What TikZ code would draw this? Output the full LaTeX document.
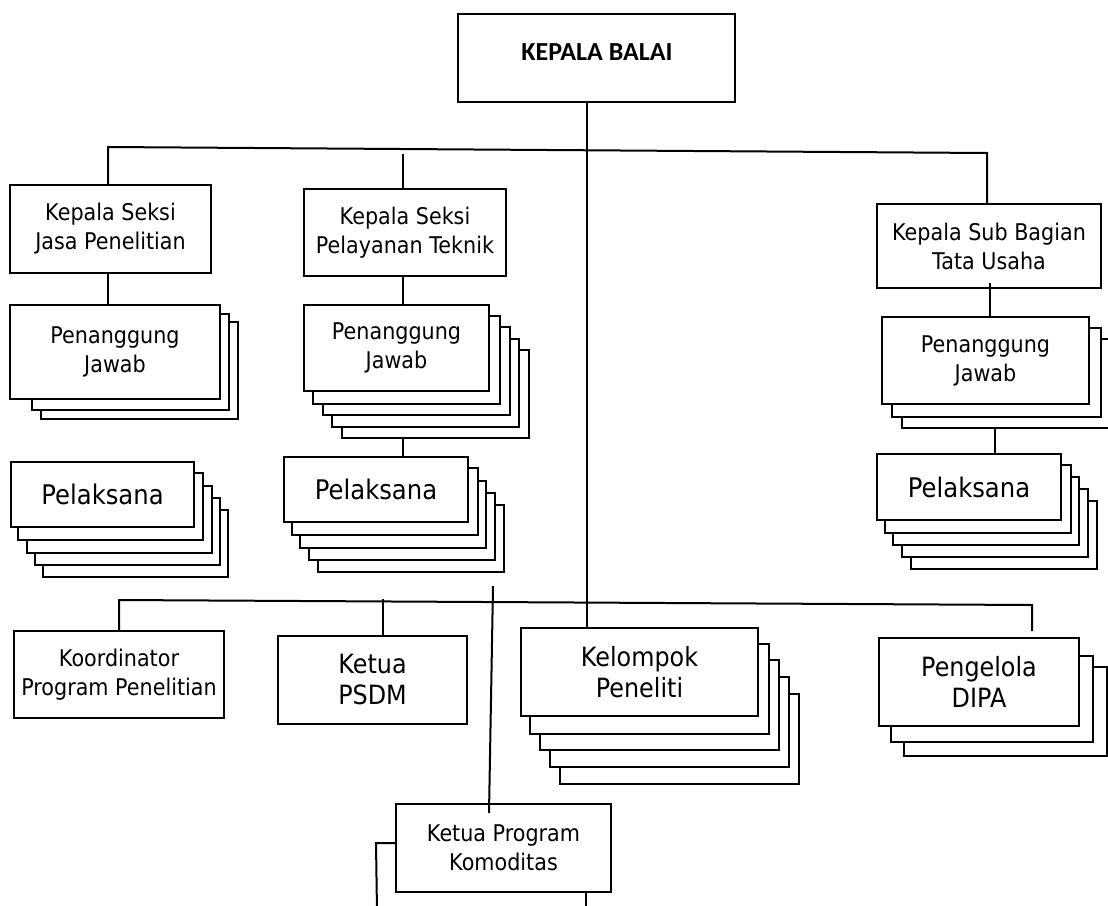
\documentclass[tikz,border=0pt]{standalone}
\usepackage{fontspec}
\newfontfamily\tah[FakeStretch=0.9]{DejaVu Sans}
\newfontfamily\carl{Carlito}
\usetikzlibrary{calc}
\pgfdeclarelayer{bg}
\pgfdeclarelayer{mid}
\pgfsetlayers{bg,mid,main}
\tikzset{
  box/.style={draw=black, fill=white, line width=2pt, inner sep=0pt, align=center, font=\tah\fontsize{23}{29}\selectfont},
  bigtext/.style={font=\tah\fontsize{26.5}{31}\selectfont},
  pltext/.style={font=\tah\fontsize{27}{31}\selectfont},
  layer/.style={draw=black, fill=white, line width=2pt},
  conn/.style={draw=black, line width=2pt},
}
\begin{document}
\begin{tikzpicture}[x=1pt,y=-1pt]
\useasboundingbox (0,0) rectangle (1108,905);

% ---- nodes ----
\node[box, minimum width=277, minimum height=88] (kb) at (596.5,58) {};
\node[font=\carl\bfseries\fontsize{26}{30}\selectfont, inner sep=0pt] (kbt) at (597,52) {KEPALA BALAI};
\node[box, minimum width=201, minimum height=88] (jasa) at (110.5,229) {Kepala Seksi\\Jasa Penelitian};
\node[box, minimum width=202, minimum height=87] (pel) at (405,232.5) {Kepala Seksi\\Pelayanan Teknik};
\node[box, minimum width=224, minimum height=84] (sub) at (989,246) {Kepala Sub Bagian\\Tata Usaha};
\node[box, minimum width=210, minimum height=94] (pj1) at (115,352) {Penanggung\\Jawab};
\node[box, minimum width=185, minimum height=86] (pj2) at (396.5,348) {Penanggung\\Jawab};
\node[box, minimum width=207, minimum height=87] (pj3) at (985.5,360.5) {Penanggung\\Jawab};
\node[box, pltext, minimum width=183, minimum height=65] (pl1) at (102.5,494.5) {Pelaksana};
\node[box, pltext, minimum width=184, minimum height=65] (pl2) at (376,489.5) {Pelaksana};
\node[box, pltext, minimum width=184, minimum height=66] (pl3) at (969,487) {Pelaksana};
\node[box, minimum width=210, minimum height=87] (koord) at (119,674.5) {Koordinator\\Program Penelitian};
\node[box, bigtext, minimum width=189, minimum height=88] (psdm) at (372.5,680) {Ketua\\PSDM};
\node[box, bigtext, minimum width=237, minimum height=88] (kel) at (639.5,672) {Kelompok\\Peneliti};
\node[box, bigtext, minimum width=200, minimum height=88] (peng) at (979,682) {Pengelola\\DIPA};
\node[box, minimum width=215, minimum height=88] (kpk) at (503.5,848) {Ketua Program\\Komoditas};

% ---- stacked back layers ----
\begin{pgfonlayer}{mid}
  \draw[layer] ($(pj1.north west)+(32,18)$) rectangle ($(pj1.south east)+(17,19)$);
  \draw[layer] ($(pj1.north west)+(23,10)$) rectangle ($(pj1.south east)+(8,10)$);
  \foreach \k in {4,3,2,1}{
    \draw[layer] ($(pj2.north west)+({9.8*\k},{11.5*\k})$) rectangle ($(pj2.south east)+({9.8*\k},{11.5*\k})$);
    \draw[layer] ($(pl1.north west)+({8.3*\k},{12.3*\k})$) rectangle ($(pl1.south east)+({8.3*\k},{12.3*\k})$);
    \draw[layer] ($(pl2.north west)+({8.7*\k},{12.3*\k})$) rectangle ($(pl2.south east)+({8.7*\k},{12.3*\k})$);
    \draw[layer] ($(pl3.north west)+({8.7*\k},{12*\k})$) rectangle ($(pl3.south east)+({8.7*\k},{12*\k})$);
    \draw[layer] ($(kel.north west)+({10*\k},{16.7*\k})$) rectangle ($(kel.south east)+({10*\k},{16.7*\k})$);
  }
  \foreach \k in {2,1}{
    \draw[layer] ($(pj3.north west)+({10.5*\k},{11.5*\k})$) rectangle ($(pj3.south east)+({10.5*\k},{11.5*\k})$);
  }
  \draw[layer] ($(peng.north west)+(26,30)$) rectangle ($(peng.south east)+(27,29)$);
  \draw[layer] ($(peng.north west)+(13,19)$) rectangle ($(peng.south east)+(13,15)$);
\end{pgfonlayer}

% ---- connectors ----
\coordinate (h1l) at (108,147);
\coordinate (h1r) at (987,153);
\coordinate (pst) at (403,154);
\coordinate (mx) at (587,0);
\coordinate (sx) at (990,283);
\coordinate (sx2) at (995,0);
\coordinate (h2l) at (119,600);
\coordinate (h2r) at (1032,605);
\coordinate (h2e) at (1032,631);
\coordinate (ps) at (383,599);
\coordinate (st) at (493,586);
\coordinate (se) at (489,813);
\coordinate (kl) at (377,912);
\coordinate (kr) at (586,912);
\begin{pgfonlayer}{bg}
  \fill[white] (0,0) rectangle (1108,905);
  \draw[conn] (jasa.north -| h1l) -- (h1l) -- (h1r) -- (sub.north -| h1r);
  \draw[conn] (pst) -- (pel.north -| pst);
  \draw[conn] (kb.south -| mx) -- (kel.north -| mx);
  \draw[conn] (jasa.south -| h1l) -- (pj1.north -| h1l);
  \draw[conn] (pel.south -| pst) -- (pj2.north -| pst);
  \draw[conn] (pj2.south -| pst) -- (pl2.north -| pst);
  \draw[conn] (pj3.south -| sx2) -- (pl3.north -| sx2);
  \draw[conn] (koord.north -| h2l) -- (h2l) -- (h2r) -- (h2e);
  \draw[conn] (ps) -- (psdm.north -| ps);
  \draw[conn] ($(kpk.north west)+(0,40)$) -- ($(kpk.north west)+(-19,40)$) -- (kl);
  \draw[conn] (kpk.south -| kr) -- (kr);
\end{pgfonlayer}
\draw[conn] (sx) -- (pj3.north -| sx);
\draw[conn] (st) -- (se);
\end{tikzpicture}
\end{document}
